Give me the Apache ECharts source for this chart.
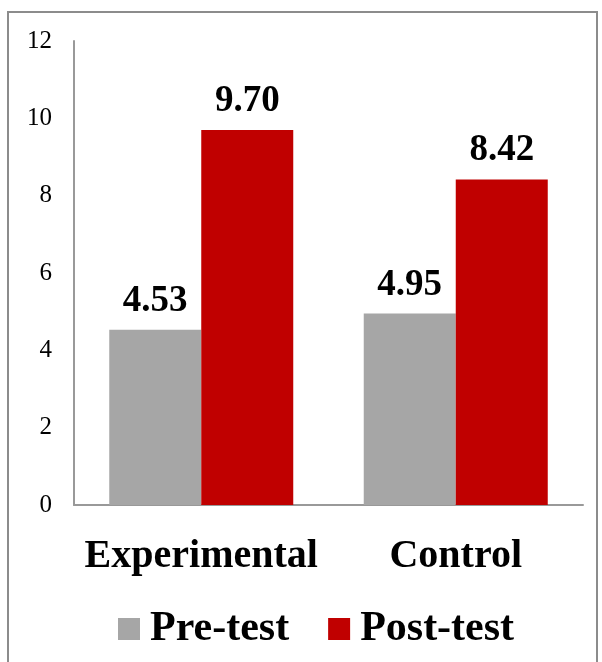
<!DOCTYPE html>
<html>
<head>
<meta charset="utf-8">
<script src="https://cdn.jsdelivr.net/npm/echarts@6/dist/echarts.min.js"></script>
<style>
  html, body { margin: 0; padding: 0; background: #fff; }
  #chart { width: 602px; height: 662px; }
</style>
</head>
<body>
<div id="chart"></div>
<script>
  const categories = ['Experimental', 'Control']
  const preTest = [4.53, 4.95]
  const postTest = [9.70, 8.42]
  const yTicks = { min: 0, max: 12, interval: 2 }

  const serif = '"Liberation Serif", "DejaVu Serif", serif'

  const chart = echarts.init(document.getElementById('chart'))

  const barLabel = {
    show: true,
    position: 'top',
    distance: 10,
    fontFamily: serif,
    fontWeight: 'bold',
    fontSize: 37,
    color: '#000',
    formatter(p) {
      return p.value.toFixed(2)
    }
  }

  chart.setOption({
    backgroundColor: '#fff',
    animation: false,
    graphic: [{
      type: 'rect',
      shape: { x: 8, y: 12, width: 589, height: 700 },
      style: { fill: 'none', stroke: '#8c8c8c', lineWidth: 2 },
      silent: true
    }],
    grid: {
      left: 74,
      right: 19,
      top: 41,
      bottom: 157
    },
    legend: {
      top: 603,
      left: 113,
      itemWidth: 22,
      itemHeight: 22,
      itemGap: 39,
      icon: 'rect',
      textStyle: {
        fontFamily: serif,
        fontWeight: 'bold',
        fontSize: 42,
        color: '#000',
        padding: [0, 0, 0, 5]
      },
      data: ['Pre-test', 'Post-test']
    },
    xAxis: {
      type: 'category',
      data: categories,
      axisLine: { lineStyle: { color: '#999', width: 2 } },
      axisTick: { show: false },
      axisLabel: {
        interval: 0,
        hideOverlap: false,
        margin: 32,
        fontFamily: serif,
        fontWeight: 'bold',
        fontSize: 40,
        color: '#000'
      }
    },
    yAxis: {
      type: 'value',
      min: yTicks.min,
      max: yTicks.max,
      interval: yTicks.interval,
      splitLine: { show: false },
      axisLine: { show: true, lineStyle: { color: '#999', width: 2 } },
      axisTick: { show: false },
      axisLabel: {
        margin: 22,
        fontFamily: serif,
        fontSize: 25,
        color: '#000'
      }
    },
    series: [{
      name: 'Pre-test',
      type: 'bar',
      barGap: '0%',
      barCategoryGap: '27.7%',
      itemStyle: { color: '#a6a6a6' },
      label: barLabel,
      data: preTest
    }, {
      name: 'Post-test',
      type: 'bar',
      barGap: '0%',
      barCategoryGap: '27.7%',
      itemStyle: { color: '#c00000' },
      label: barLabel,
      data: postTest
    }]
  })
</script>
</body>
</html>
